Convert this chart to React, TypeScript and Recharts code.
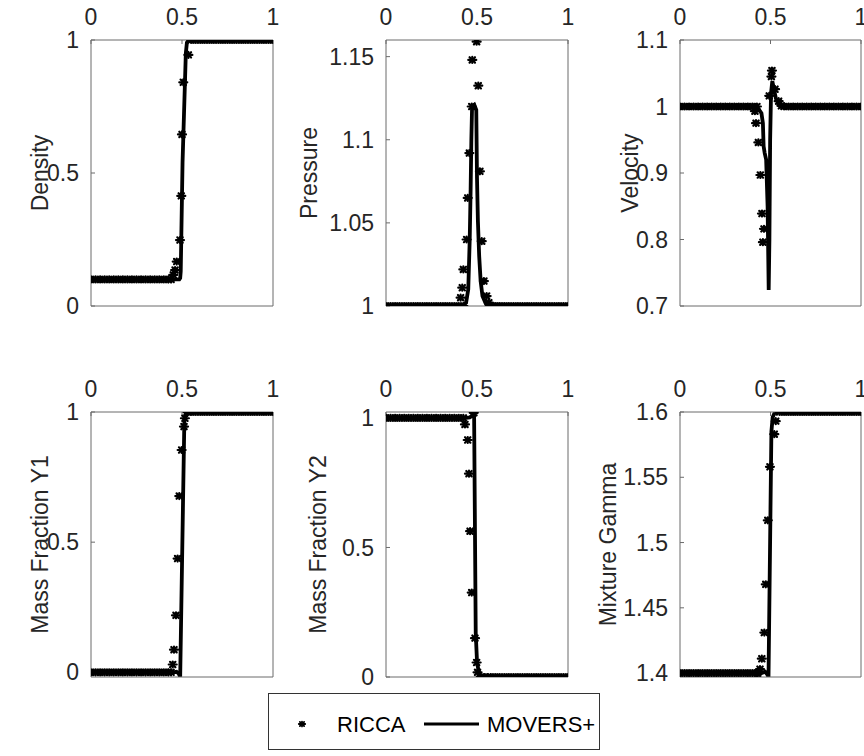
import { ComposedChart, Line, Scatter, XAxis, YAxis } from "recharts";

// RICCA flat-state sample positions (left and right of the interface)
const flatX = [
  0, 0.025, 0.05, 0.075, 0.1, 0.125, 0.15, 0.175, 0.2, 0.225, 0.25, 0.275, 0.3, 0.325, 0.35, 0.375, 0.4, 0.425,
  0.575, 0.6, 0.625, 0.65, 0.675, 0.7, 0.725, 0.75, 0.775, 0.8, 0.825, 0.85, 0.875, 0.9, 0.925, 0.95, 0.975, 1,
];

const xTicks = [0, 0.5, 1];

// Density
const densityFlatY = [
  0.1, 0.1, 0.1, 0.1, 0.1, 0.1, 0.1, 0.1, 0.1, 0.1, 0.1, 0.1, 0.1, 0.1, 0.1, 0.1, 0.1, 0.1,
  1, 1, 1, 1, 1, 1, 1, 1, 1, 1, 1, 1, 1, 1, 1, 1, 1, 1,
];
const densityRiccaX = [0.44, 0.452, 0.462, 0.471, 0.489, 0.496, 0.5, 0.507, 0.535, 0.55];
const densityRiccaY = [0.1, 0.117, 0.135, 0.167, 0.248, 0.414, 0.645, 0.841, 0.944, 1];
const densityLineX = [0, 0.485, 0.49, 0.493, 0.503, 0.521, 0.527, 0.54, 1];
const densityLineY = [0.1, 0.1, 0.105, 0.13, 0.54, 0.95, 0.99, 1, 1];

// Pressure
const pressureFlatY = [
  1, 1, 1, 1, 1, 1, 1, 1, 1, 1, 1, 1, 1, 1, 1, 1, 1, 1,
  1, 1, 1, 1, 1, 1, 1, 1, 1, 1, 1, 1, 1, 1, 1, 1, 1, 1,
];
const pressureRiccaX = [0.41, 0.419, 0.425, 0.443, 0.449, 0.458, 0.471, 0.474, 0.498, 0.507, 0.516, 0.526, 0.538, 0.553, 0.565];
const pressureRiccaY = [1.005, 1.011, 1.022, 1.04, 1.065, 1.092, 1.12, 1.148, 1.159, 1.1325, 1.081, 1.039, 1.015, 1.006, 1.002];
const pressureLineX = [0, 0.42, 0.44, 0.452, 0.46, 0.465, 0.469, 0.473, 0.485, 0.496, 0.5, 0.505, 0.512, 0.52, 0.53, 0.55, 1];
const pressureLineY = [1, 1, 1.002, 1.01, 1.04, 1.07, 1.1, 1.12, 1.121, 1.118, 1.077, 1.051, 1.03, 1.015, 1.006, 1.001, 1];

// Velocity
const velocityFlatY = [
  1, 1, 1, 1, 1, 1, 1, 1, 1, 1, 1, 1, 1, 1, 1, 1, 1, 1,
  1, 1, 1, 1, 1, 1, 1, 1, 1, 1, 1, 1, 1, 1, 1, 1, 1, 1,
];
const velocityRiccaX = [0.414, 0.42, 0.433, 0.444, 0.453, 0.458, 0.464, 0.493, 0.505, 0.508, 0.525, 0.545, 0.56];
const velocityRiccaY = [0.993, 0.975, 0.946, 0.897, 0.839, 0.796, 0.816, 1.016, 1.045, 1.054, 1.026, 1.008, 1.001];
const velocityLineX = [0, 0.4, 0.43, 0.45, 0.458, 0.462, 0.468, 0.476, 0.484, 0.49, 0.494, 0.498, 0.503, 0.51, 0.52, 0.53, 0.545, 0.56, 1];
const velocityLineY = [1, 1, 0.998, 0.99, 0.975, 0.94, 0.93, 0.92, 0.85, 0.724, 0.8, 0.95, 1.02, 1.038, 1.025, 1.012, 1.004, 1, 1];

// Mass fraction Y1
const y1FlatY = [
  0, 0, 0, 0, 0, 0, 0, 0, 0, 0, 0, 0, 0, 0, 0, 0, 0, 0,
  1, 1, 1, 1, 1, 1, 1, 1, 1, 1, 1, 1, 1, 1, 1, 1, 1, 1,
];
const y1RiccaX = [0.44, 0.449, 0.456, 0.467, 0.476, 0.485, 0.498, 0.511, 0.516, 0.53, 0.55];
const y1RiccaY = [0, 0.03, 0.087, 0.219, 0.437, 0.677, 0.854, 0.944, 0.976, 1, 1];
const y1LineX = [0, 0.45, 0.47, 0.482, 0.49, 0.513, 0.52, 0.535, 1];
const y1LineY = [0, 0, 0.002, -0.005, -0.017, 0.97, 0.995, 1, 1];

// Mass fraction Y2
const y2FlatY = [
  1, 1, 1, 1, 1, 1, 1, 1, 1, 1, 1, 1, 1, 1, 1, 1, 1, 1,
  0, 0, 0, 0, 0, 0, 0, 0, 0, 0, 0, 0, 0, 0, 0, 0, 0, 0,
];
const y2RiccaX = [0.434, 0.449, 0.456, 0.462, 0.471, 0.482, 0.489, 0.498, 0.503, 0.52, 0.54, 0.56];
const y2RiccaY = [0.975, 0.915, 0.785, 0.563, 0.326, 1.02, 0.15, 0.056, 0.018, 0, 0, 0];
const y2LineX = [0, 0.44, 0.46, 0.475, 0.484, 0.493, 0.5, 0.507, 0.515, 0.53, 1];
const y2LineY = [1, 1, 1.002, 1.01, 1.022, 0.17, 0.06, 0.03, 0.008, 0, 0];

// Mixture gamma
const gammaFlatY = [
  1.4, 1.4, 1.4, 1.4, 1.4, 1.4, 1.4, 1.4, 1.4, 1.4, 1.4, 1.4, 1.4, 1.4, 1.4, 1.4, 1.4, 1.4,
  1.6, 1.6, 1.6, 1.6, 1.6, 1.6, 1.6, 1.6, 1.6, 1.6, 1.6, 1.6, 1.6, 1.6, 1.6, 1.6, 1.6, 1.6,
];
const gammaRiccaX = [0.43, 0.442, 0.452, 0.466, 0.474, 0.485, 0.497, 0.521, 0.529, 0.55];
const gammaRiccaY = [1.4, 1.403, 1.411, 1.431, 1.468, 1.517, 1.558, 1.583, 1.593, 1.6];
const gammaLineX = [0, 0.45, 0.47, 0.482, 0.489, 0.505, 0.512, 0.525, 1];
const gammaLineY = [1.4, 1.4, 1.401, 1.399, 1.397, 1.585, 1.596, 1.6, 1.6];

type Panel = {
  label: string;
  col: number;
  row: number;
  domain: [number, number];
  ticks: number[];
  flatY: number[];
  riccaX: number[];
  riccaY: number[];
  lineX: number[];
  lineY: number[];
  labelX: number;
};

const panels: Panel[] = [
  { label: "Density", col: 0, row: 0, domain: [0, 1], ticks: [0, 0.5, 1], flatY: densityFlatY, riccaX: densityRiccaX, riccaY: densityRiccaY, lineX: densityLineX, lineY: densityLineY, labelX: 48 },
  { label: "Pressure", col: 1, row: 0, domain: [1, 1.16], ticks: [1, 1.05, 1.1, 1.15], flatY: pressureFlatY, riccaX: pressureRiccaX, riccaY: pressureRiccaY, lineX: pressureLineX, lineY: pressureLineY, labelX: 317 },
  { label: "Velocity", col: 2, row: 0, domain: [0.7, 1.1], ticks: [0.7, 0.8, 0.9, 1, 1.1], flatY: velocityFlatY, riccaX: velocityRiccaX, riccaY: velocityRiccaY, lineX: velocityLineX, lineY: velocityLineY, labelX: 638 },
  { label: "Mass Fraction Y1", col: 0, row: 1, domain: [-0.018, 1], ticks: [0, 0.5, 1], flatY: y1FlatY, riccaX: y1RiccaX, riccaY: y1RiccaY, lineX: y1LineX, lineY: y1LineY, labelX: 48 },
  { label: "Mass Fraction Y2", col: 1, row: 1, domain: [0, 1.023], ticks: [0, 0.5, 1], flatY: y2FlatY, riccaX: y2RiccaX, riccaY: y2RiccaY, lineX: y2LineX, lineY: y2LineY, labelX: 326 },
  { label: "Mixture Gamma", col: 2, row: 1, domain: [1.397, 1.6], ticks: [1.4, 1.45, 1.5, 1.55, 1.6], flatY: gammaFlatY, riccaX: gammaRiccaX, riccaY: gammaRiccaY, lineX: gammaLineX, lineY: gammaLineY, labelX: 616 },
];

const colLeft = [91, 386, 680];
const colWidth = [182, 182, 181];
const rowTop = [40, 412];
const rowHeight = [266, 265];
const PAD_L = 90;
const PAD_T = 40;
const PAD_R = 16;
const PAD_B = 18;
const FONT = '"Liberation Sans", Arial, Helvetica, sans-serif';
const INK = "#262626";
const FRAME = "#6b6b6b";

function Asterisk(props: any) {
  const { cx, cy } = props;
  if (cx == null || cy == null) return null;
  return (
    <g stroke="#000" strokeWidth={2.2} strokeLinecap="round">
      <line x1={cx - 4} y1={cy} x2={cx + 4} y2={cy} />
      <line x1={cx} y1={cy - 3} x2={cx} y2={cy + 3} />
      <line x1={cx - 2.7} y1={cy - 2.7} x2={cx + 2.7} y2={cy + 2.7} />
      <line x1={cx - 2.7} y1={cy + 2.7} x2={cx + 2.7} y2={cy - 2.7} />
    </g>
  );
}

function PanelChart({ p }: { p: Panel }) {
  const boxW = colWidth[p.col];
  const boxH = rowHeight[p.row];
  const left = colLeft[p.col] - PAD_L;
  const top = rowTop[p.row] - PAD_T;
  const ricca = [
    ...flatX.map((x, i) => ({ x, y: p.flatY[i] })),
    ...p.riccaX.map((x, i) => ({ x, y: p.riccaY[i] })),
  ];
  const movers = p.lineX.map((x, i) => ({ x, y: p.lineY[i] }));
  const tickStyle = { fill: INK, fontSize: 23, fontFamily: FONT };
  const lx = p.labelX - left;
  const ly = PAD_T + boxH / 2;

  return (
    <div style={{ position: "absolute", left, top }}>
      <ComposedChart
        width={PAD_L + boxW + PAD_R}
        height={PAD_T + boxH + PAD_B}
        margin={{ top: 0, right: 0, bottom: 0, left: 0 }}
      >
        <XAxis xAxisId="t" type="number" dataKey="x" orientation="top" domain={[0, 1]} ticks={xTicks}
          allowDataOverflow interval={0} height={PAD_T} tickSize={-4} tickMargin={19} tick={tickStyle} stroke={FRAME} />
        <XAxis xAxisId="b" type="number" dataKey="x" orientation="bottom" domain={[0, 1]} ticks={xTicks}
          allowDataOverflow interval={0} height={PAD_B} tickSize={-4} tick={false} stroke={FRAME} />
        <YAxis yAxisId="l" type="number" dataKey="y" orientation="left" domain={p.domain} ticks={p.ticks}
          allowDataOverflow interval={0} width={PAD_L} tickSize={-4} tickMargin={16} tick={tickStyle} stroke={FRAME} />
        <YAxis yAxisId="r" type="number" dataKey="y" orientation="right" domain={p.domain} ticks={p.ticks}
          allowDataOverflow interval={0} width={PAD_R} tickSize={-4} tick={false} stroke={FRAME} />
        <Scatter xAxisId="t" yAxisId="l" data={ricca} dataKey="y" shape={Asterisk} isAnimationActive={false} />
        <Line xAxisId="t" yAxisId="l" data={movers} dataKey="y" type="linear" stroke="#000" strokeWidth={3.8}
          dot={false} activeDot={false} isAnimationActive={false} />
        <text x={lx} y={ly} transform={`rotate(-90 ${lx} ${ly})`} textAnchor="middle"
          fontSize={23} fontFamily={FONT} fill={INK}>
          {p.label}
        </text>
      </ComposedChart>
    </div>
  );
}

function LegendBox() {
  return (
    <div style={{
      position: "absolute", left: 268, top: 693, width: 332, height: 57, boxSizing: "border-box",
      border: "1px solid #333", background: "#fff",
    }}>
      <svg width={330} height={55} style={{ position: "absolute", left: 0, top: 0 }}>
        <g transform="translate(33 30) scale(0.8) translate(-33 -30)">
          <Asterisk cx={33} cy={30} />
        </g>
        <line x1={155} y1={30} x2={210} y2={30} stroke="#000" strokeWidth={3} />
        <text x={68} y={37.5} fontSize={22} fontFamily={FONT} fill="#000">RICCA</text>
        <text x={218} y={37.5} fontSize={22} fontFamily={FONT} fill="#000">MOVERS+</text>
      </svg>
    </div>
  );
}

export default function App() {
  return (
    <div style={{ position: "absolute", left: 0, top: 0, width: 864, height: 756, background: "#fff", overflow: "hidden" }}>
      {panels.map((p) => (
        <PanelChart key={p.label} p={p} />
      ))}
      <LegendBox />
    </div>
  );
}
